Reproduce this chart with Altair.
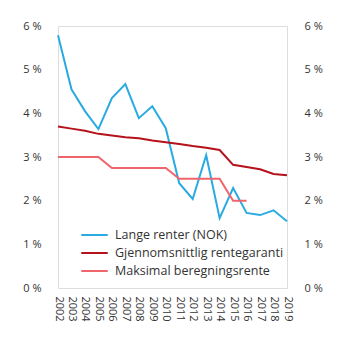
import altair as alt
import pandas as pd

years = [str(y) for y in range(2002, 2020)]
lange = [5.79, 4.55, 4.05, 3.64, 4.35, 4.67, 3.89, 4.16, 3.66, 2.40, 2.04, 3.04, 1.60, 2.29, 1.72, 1.67, 1.78, 1.53]
garanti = [3.70, 3.65, 3.60, 3.53, 3.49, 3.45, 3.43, 3.38, 3.34, 3.30, 3.25, 3.21, 3.16, 2.82, 2.77, 2.72, 2.61, 2.58]
maks = [3.0, 3.0, 3.0, 3.0, 2.75, 2.75, 2.75, 2.75, 2.75, 2.5, 2.5, 2.5, 2.5, 2.0, 2.0]

series_names = ["Lange renter (NOK)", "Gjennomsnittlig rentegaranti", "Maksimal beregningsrente"]
colors = ["#29abe2", "#b5121b", "#f0646c"]

rows = []
for name, vals in zip(series_names, [lange, garanti, maks]):
    for y, v in zip(years, vals):
        rows.append({"year": y, "value": v, "series": name})
df = pd.DataFrame(rows)

FONT = "Open Sans"

x = alt.X("year:O", scale=alt.Scale(type="point", padding=0),
          axis=alt.Axis(title=None, labelAngle=90, labelAlign="left", labelBaseline="middle",
                        domain=False, ticks=False, labelPadding=8, labelFontSize=11,
                        labelColor="#333333", labelFont=FONT))

yscale = alt.Scale(domain=[0, 6])

lines = alt.Chart(df).mark_line(strokeWidth=2).encode(
    x=x,
    y=alt.Y("value:Q", scale=yscale,
            axis=alt.Axis(title=None, orient="left", values=[0, 1, 2, 3, 4, 5, 6],
                          labelExpr="datum.value + ' %'", domain=False, ticks=False, grid=False,
                          labelPadding=17, labelFontSize=11, labelColor="#333333", labelFont=FONT)),
    color=alt.Color("series:N", scale=alt.Scale(domain=series_names, range=colors),
                    legend=alt.Legend(title=None, orient="none", legendX=22, legendY=201,
                                      symbolType="stroke", symbolStrokeWidth=2, symbolSize=700,
                                      clipHeight=16, rowPadding=2, labelOffset=6,
                                      labelFontSize=12.5, labelColor="#333333", labelFont=FONT,
                                      labelLimit=300)),
    order=alt.Order("year:O"),
)

right = alt.Chart(df).mark_line(opacity=0).encode(
    x=x,
    y=alt.Y("value:Q", scale=yscale,
            axis=alt.Axis(title=None, orient="right", values=[0, 1, 2, 3, 4, 5, 6],
                          labelExpr="datum.value + ' %'", domain=False, ticks=False, grid=False,
                          labelPadding=17, labelFontSize=11, labelColor="#333333", labelFont=FONT)),
    detail="series:N",
)

chart = alt.layer(lines, right).resolve_axis(y="independent").properties(
    width=229, height=262,
    autosize=alt.AutoSizeParams(type="none"),
    padding={"left": 58, "top": 26, "right": 58, "bottom": 53},
).configure_view(stroke=None).configure(background="white")

chart.save("out.html", embed_options={"renderer": "svg", "actions": False})
